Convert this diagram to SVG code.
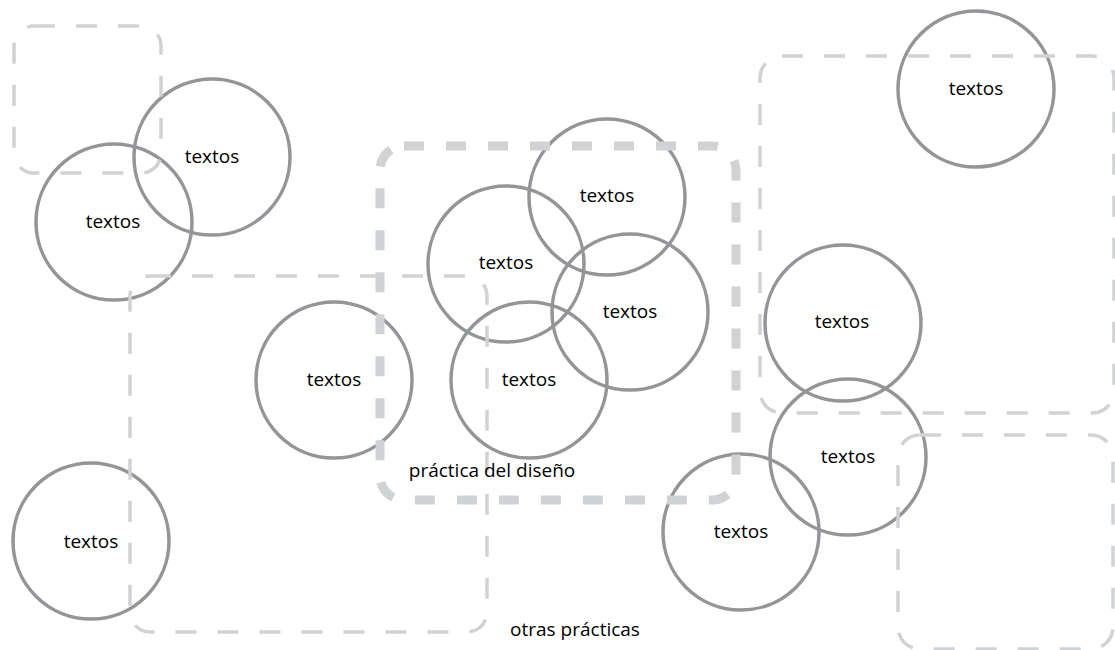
<svg xmlns="http://www.w3.org/2000/svg" width="1115" height="650" viewBox="0 0 1115 650">
  <style>
    .node circle { fill: none; stroke: #939598; stroke-width: 3.5; }
    .lbl { font-family: "Open Sans", "Noto Sans", sans-serif; font-size: 19px; fill: #000; text-anchor: middle; }
    .zone { fill: none; stroke: #d1d2d4; stroke-width: 3.5; stroke-dasharray: 21 21; }
    .zone-main { fill: none; stroke: #d1d2d4; stroke-width: 9; stroke-dasharray: 20 22; }
  </style>
  <rect width="1115" height="650" fill="#ffffff"/>

  <g id="n1" class="node"><circle cx="212" cy="157" r="78"/><text class="lbl" x="212" y="163">textos</text></g>
  <g id="n2" class="node"><circle cx="114" cy="222" r="78"/><text class="lbl" x="113" y="228">textos</text></g>
  <g id="n3" class="node"><circle cx="334" cy="380" r="78"/><text class="lbl" x="334" y="386">textos</text></g>
  <g id="n4" class="node"><circle cx="91" cy="541" r="78"/><text class="lbl" x="91" y="548">textos</text></g>
  <g id="n5" class="node"><circle cx="607" cy="197" r="78"/><text class="lbl" x="607" y="202">textos</text></g>
  <g id="n6" class="node"><circle cx="506" cy="264" r="78"/><text class="lbl" x="506" y="269">textos</text></g>
  <g id="n7" class="node"><circle cx="630" cy="312" r="78"/><text class="lbl" x="630" y="318">textos</text></g>
  <g id="n8" class="node"><circle cx="529" cy="380" r="78"/><text class="lbl" x="529" y="386">textos</text></g>
  <g id="n9" class="node"><circle cx="976" cy="89" r="78"/><text class="lbl" x="976" y="95">textos</text></g>
  <g id="n10" class="node"><circle cx="843" cy="323" r="78"/><text class="lbl" x="842" y="328">textos</text></g>
  <g id="n11" class="node"><circle cx="848" cy="457" r="78"/><text class="lbl" x="848" y="463">textos</text></g>
  <g id="n12" class="node"><circle cx="741" cy="532" r="78"/><text class="lbl" x="741" y="538">textos</text></g>

  <g id="zones">
    <rect id="zoneA" class="zone" x="14" y="26" width="147" height="147" rx="20"/>
    <rect id="zoneB" class="zone" x="130" y="276" width="357" height="356" rx="20"/>
    <rect id="zoneC" class="zone" x="760" y="56" width="354" height="357" rx="22"/>
    <rect id="zoneD" class="zone" x="898" y="435" width="215" height="214" rx="22"/>
    <rect id="zoneMain" class="zone-main" x="380" y="146" width="356" height="354" rx="24"/>
  </g>

  <g id="zone-labels">
    <text class="lbl" x="492" y="477">práctica del diseño</text>
    <text class="lbl" x="575" y="636">otras prácticas</text>
  </g>
</svg>
